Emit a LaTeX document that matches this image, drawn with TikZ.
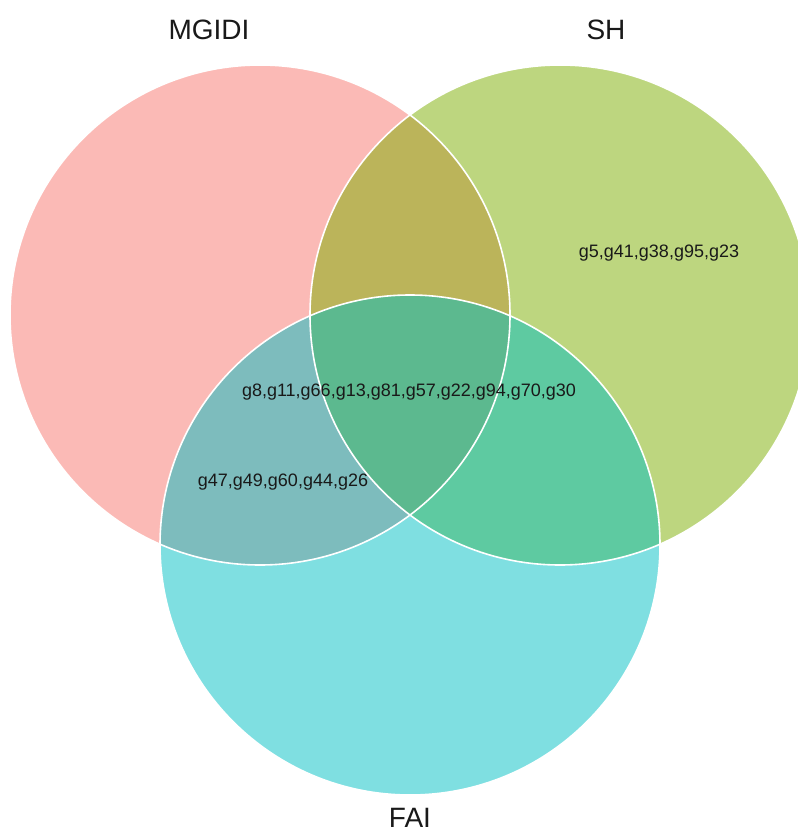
\documentclass[tikz,border=0pt]{standalone}
\usepackage{fontspec}
\setmainfont{Liberation Sans}
\usepackage{tikz}
\tikzset{venn/.style={fill opacity=.5}}
\tikzset{rim/.style={draw=white, line width=1.6pt}}
\tikzset{catlab/.style={font=\fontsize{28}{30}\selectfont, text=black!90}}
\tikzset{genes/.style={font=\fontsize{18}{20}\selectfont, text=black!90}}

\begin{document}
\begin{tikzpicture}[x=1pt,y=-1pt]
  \useasboundingbox (0,0) rectangle (797,837);
  % the three sets
  \foreach \x/\y/\col/\lab in {
    260/315/F8766D/mgidi,
    560/315/7CAE00/sh,
    410/545/00BFC4/fai%
  } {
    \definecolor{setcol}{HTML}{\col}
    \coordinate (\lab) at (\x, \y);
    \fill[venn, setcol] (\lab) circle[radius=250];
  }
  \foreach \lab in {mgidi, sh, fai} {
    \draw[rim] (\lab) circle[radius=250];
  }
  % set names
  \node[catlab] (mgidiname) at (209, 30) {MGIDI};
  \node[catlab] (shname) at (606, 30) {SH};
  \node[catlab, inner sep=0pt] (fainame) at (410, 818) {FAI};
  % region members
  \node[genes] (onlysh) at (659, 253) {g5,g41,g38,g95,g23};
  \node[genes] (allthree) at (409, 392) {g8,g11,g66,g13,g81,g57,g22,g94,g70,g30};
  \node[genes] (mgidifai) at (283, 482) {g47,g49,g60,g44,g26};
\end{tikzpicture}
\end{document}
